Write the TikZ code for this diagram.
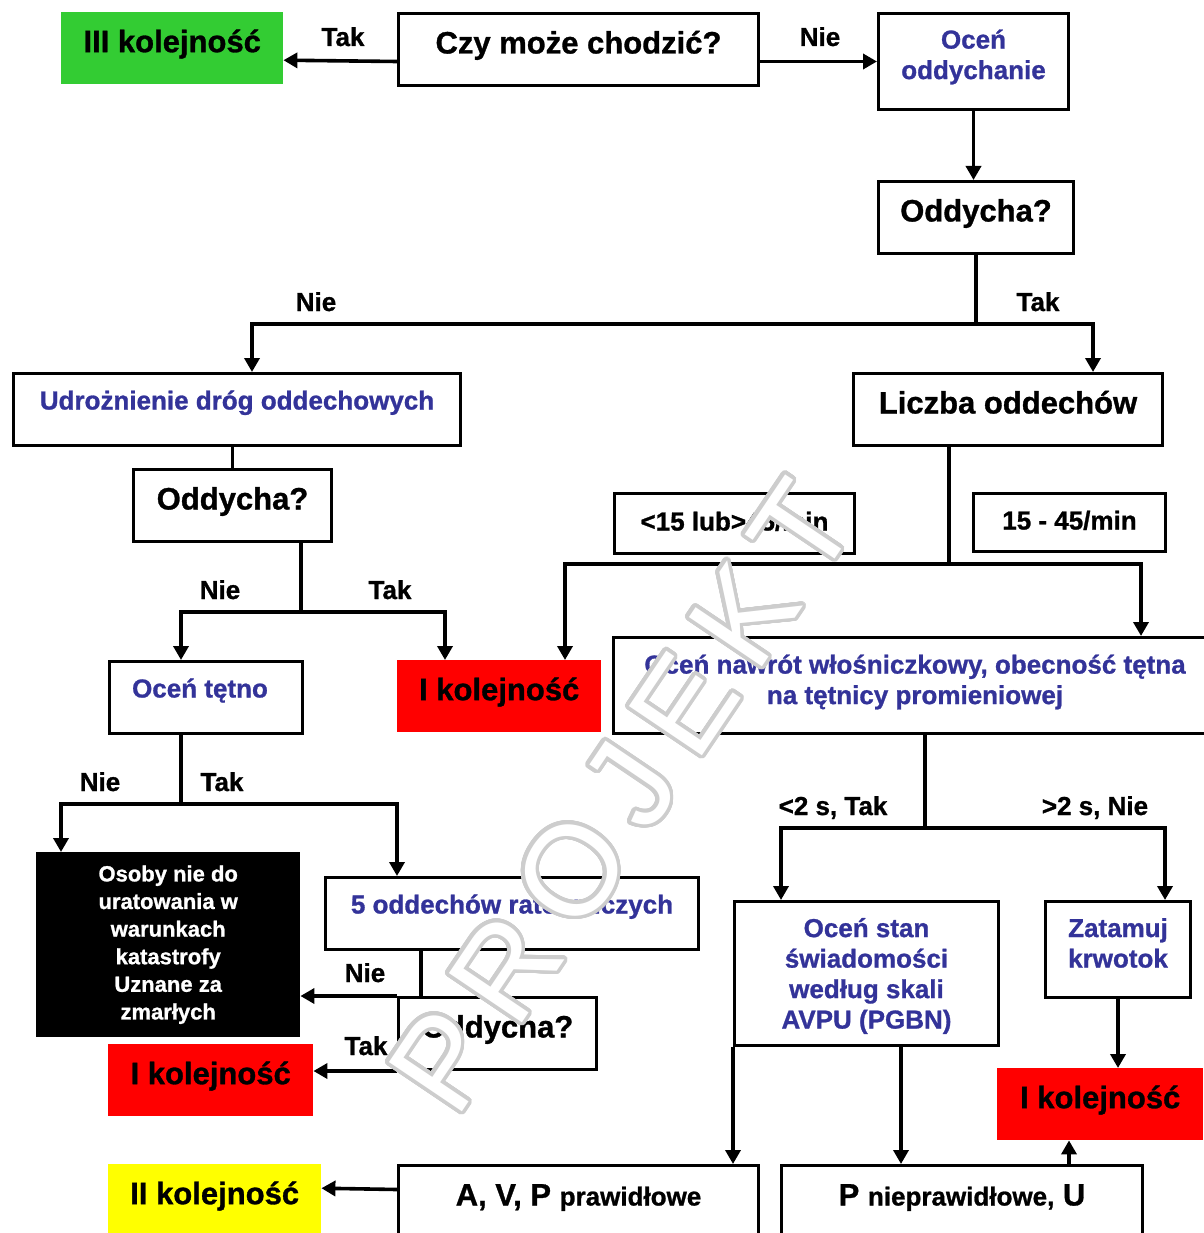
\documentclass[tikz,border=0pt]{standalone}
\usepackage{fontspec}
\setmainfont{Liberation Sans}[BoldFeatures={FakeBold=1}]
\usepackage{contour}
\usetikzlibrary{arrows.meta}

\definecolor{ink}{RGB}{51,51,153}
\definecolor{kolgreen}{RGB}{51,204,51}
\definecolor{kolred}{RGB}{255,0,0}
\definecolor{kolyellow}{RGB}{255,255,0}
\definecolor{wmgray}{RGB}{205,205,205}
\contourlength{3.5pt}
\contournumber{48}

\tikzset{
	box/.style={draw, line width=3pt, inner sep=0pt, anchor=north west, align=center},
	tag/.style={inner sep=0pt, anchor=north west, align=center},
	bigtxt/.style={font=\bfseries\fontsize{31}{36}\selectfont, text height=22pt, text depth=14pt},
	midtxt/.style={font=\bfseries\fontsize{26}{30.5}\selectfont, text=ink, text height=18pt, text depth=18pt},
	multitxt/.style={font=\bfseries\fontsize{26}{30.5}\selectfont, text=ink, align=center, inner sep=0pt},
	lbl/.style={font=\bfseries\fontsize{26}{30}\selectfont, anchor=base, inner sep=0pt},
	ln/.style={line width=3.6pt},
	arr/.style={line width=3.6pt, -{Triangle[length=14pt,width=15pt]}},
	fork/.style={line width=3.6pt, {Triangle[length=14pt,width=15pt]}-{Triangle[length=14pt,width=15pt]}}
}

\begin{document}
\begin{tikzpicture}[x=1pt,y=-1pt,>=Latex]
	\useasboundingbox (0,0) rectangle (1203,1233);
	
	% --- Top row
	\node[tag, bigtxt, fill=kolgreen, minimum width=222pt, minimum height=72pt] (iii) at (61,12) {III kolejność};
	\node[box, bigtxt, minimum width=360pt, minimum height=72pt] (czy) at (397,12) {Czy może chodzić?};
	\node[box, minimum width=190pt, minimum height=96pt] (ocen) at (877,12) {};
	\node[multitxt, yshift=4.5pt] (ocen-t) at (ocen) {Oceń\\oddychanie};
	\node[box, bigtxt, minimum width=195pt, minimum height=72pt] (odd1) at (877,180) {Oddycha?};
	
	% --- Second level
	\node[box, midtxt, minimum width=447pt, minimum height=72pt] (udr) at (12,372) {Udrożnienie dróg oddechowych};
	\node[box, bigtxt, minimum width=309pt, minimum height=72pt] (liczba) at (852,372) {Liczba oddechów};
	\node[box, bigtxt, minimum width=198pt, minimum height=72pt] (odd2) at (132,468) {Oddycha?};
	\node[box, midtxt, text=black, text depth=4pt, minimum width=240pt, minimum height=60pt] (wolno) at (613,492) {<15 lub>45/min};
	\node[box, midtxt, text=black, text depth=4pt, minimum width=192pt, minimum height=58pt] (norma) at (972,492) {15 - 45/min};
	
	% --- Third level
	\node[box, midtxt, minimum width=193pt, minimum height=72pt] (tetno) at (108,660) {Oceń tętno\hspace*{12pt}};
	\node[tag, bigtxt, fill=kolred, minimum width=204pt, minimum height=72pt] (kol1) at (397,660) {I kolejność};
	\node[box, minimum width=603pt, minimum height=96pt] (nawrot) at (612,636) {};
	\node[multitxt, yshift=3.5pt] (nawrot-t) at (nawrot) {Oceń nawrót włośniczkowy, obecność tętna\\na tętnicy promieniowej};
	
	% --- Lower part
	\node[tag, fill=black, text=white, font=\bfseries\fontsize{22}{27.6}\selectfont, minimum width=264pt, minimum height=185pt] (osoby) at (36,852) {Osoby nie do\\uratowania w\\warunkach\\katastrofy\\Uznane za\\zmarłych};
	\node[box, midtxt, minimum width=373pt, minimum height=72pt] (piec) at (324,876) {5 oddechów ratowniczych};
	\node[box, bigtxt, minimum width=198pt, minimum height=72pt] (odd3) at (397,996) {Oddycha?};
	\node[tag, bigtxt, fill=kolred, minimum width=205pt, minimum height=72pt] (kol2) at (108,1044) {I kolejność};
	\node[box, minimum width=264pt, minimum height=144pt] (avpu) at (733,900) {};
	\node[multitxt, yshift=-2.5pt] (avpu-t) at (avpu) {Oceń stan\\świadomości\\według skali\\AVPU (PGBN)};
	\node[box, minimum width=145pt, minimum height=96pt] (krwotok) at (1044,900) {};
	\node[multitxt, yshift=6.5pt] (krwotok-t) at (krwotok) {Zatamuj\\krwotok};
	\node[tag, bigtxt, fill=kolred, minimum width=206pt, minimum height=72pt] (kol3) at (997,1068) {I kolejność};
	
	% --- Bottom row
	\node[tag, bigtxt, fill=kolyellow, minimum width=213pt, minimum height=72pt] (ii) at (108,1164) {II kolejność};
	\node[box, bigtxt, minimum width=360pt, minimum height=72pt] (avp) at (397,1164) {A, V, P {\fontsize{26}{30}\selectfont prawidłowe}};
	\node[box, bigtxt, minimum width=361pt, minimum height=72pt] (pnie) at (780,1164) {P {\fontsize{26}{30}\selectfont nieprawidłowe,} U};
	
	% --- Branch points
	\coordinate (f1a) at (252,324);
	\coordinate (f1b) at (1093,324);
	\coordinate (s2) at (301,612);
	\coordinate (f2a) at (181,612);
	\coordinate (f2b) at (445,612);
	\coordinate (s3) at (949,564);
	\coordinate (f3a) at (565,564);
	\coordinate (f3b) at (1141,564);
	\coordinate (s4) at (181,804);
	\coordinate (f4a) at (61,804);
	\coordinate (f4b) at (397,804);
	\coordinate (s5) at (421,996);
	\coordinate (s6) at (925,828);
	\coordinate (f6a) at (781,828);
	\coordinate (f6b) at (1165,828);
	\coordinate (s7) at (901,1044);
	\coordinate (s8) at (1069,1164);
	
	% --- Connectors
	\draw[arr] ([yshift=-12pt]czy.west) -- ([yshift=-12pt]iii.east);
	\draw[arr] ([yshift=-12pt]czy.east) -- (ocen.west);
	\draw[arr] (ocen.south) -- (ocen.south |- odd1.north);
	
	\draw[ln] (odd1.south) -- (odd1.south |- f1a);
	\draw[fork] (f1a |- udr.north) -- (f1a) -- (f1b) -- (f1b |- liczba.north);
	
	\draw[ln] (odd2.north |- udr.south) -- (odd2.north);
	\draw[ln] (s2 |- odd2.south) -- (s2);
	\draw[fork] (f2a |- tetno.north) -- (f2a) -- (f2b) -- (f2b |- kol1.north);
	
	\draw[ln] (s3 |- liczba.south) -- (s3);
	\draw[fork] (f3a |- kol1.north) -- (f3a) -- (f3b) -- (f3b |- nawrot.north);
	
	\draw[ln] (s4 |- tetno.south) -- (s4);
	\draw[fork] (f4a |- osoby.north) -- (f4a) -- (f4b) -- (f4b |- piec.north);
	
	\draw[ln] (s5 |- piec.south) -- (s5);
	\draw[arr] (odd3.north west) -- (odd3.north west -| osoby.east);
	\draw[arr] (odd3.south west) -- (odd3.south west -| kol2.east);
	
	\draw[ln] (s6 |- nawrot.south) -- (s6);
	\draw[fork] (f6a |- avpu.north) -- (f6a) -- (f6b) -- (f6b |- krwotok.north);
	\draw[arr] (krwotok.south) -- (krwotok.south |- kol3.north);
	\draw[arr] (avpu.south west) -- (avpu.south west |- avp.north);
	\draw[arr] (s7) -- (s7 |- pnie.north);
	\draw[arr] (s8) -- (s8 |- kol3.south);
	\draw[arr] ([yshift=12pt]avp.west) -- ([yshift=12pt]ii.east);
	
	% --- Branch labels
	\node[lbl] (tak1) at (343,46) {Tak};
	\node[lbl] (nie1) at (820,46) {Nie};
	\node[lbl] (nie2) at (316,311) {Nie};
	\node[lbl] (tak2) at (1038,311) {Tak};
	\node[lbl] (nie3) at (220,599) {Nie};
	\node[lbl] (tak3) at (390,599) {Tak};
	\node[lbl] (nie4) at (100,791) {Nie};
	\node[lbl] (tak4) at (222,791) {Tak};
	\node[lbl] (szybko) at (833,815) {<2 s, Tak};
	\node[lbl] (wolniej) at (1095,815) {>2 s, Nie};
	\node[lbl] (nie5) at (365,982) {Nie};
	\node[lbl] (tak5) at (366,1055) {Tak};
	
	% --- Watermark
	\node[rotate=56, inner sep=0pt, text=white, font=\fontsize{128}{128}\selectfont] (wm) at (623,797) {\contour{wmgray}{P\hspace{22pt}R\hspace{22pt}O\hspace{22pt}J\hspace{22pt}E\hspace{22pt}K\hspace{22pt}T}};
	
\end{tikzpicture}
\end{document}
